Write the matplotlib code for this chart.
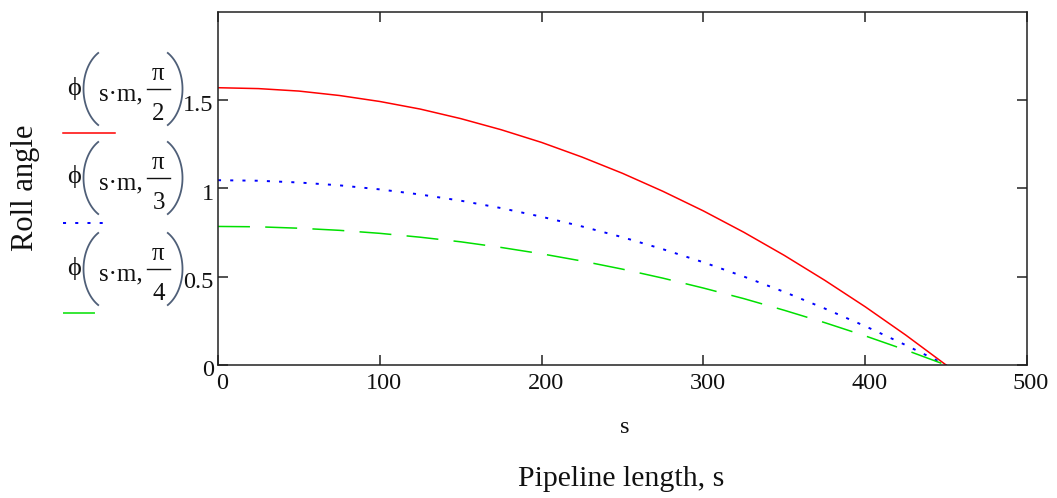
import matplotlib
matplotlib.use("Agg")
import numpy as np
import matplotlib.pyplot as plt
from matplotlib.lines import Line2D
import matplotlib.transforms as mtransforms

# Roll angle along the pipeline for three initial angles
s_values = [0, 25, 50, 75, 100, 125, 150, 175, 200, 225, 250, 275, 300,
            325, 350, 375, 400, 425, 450]
phi_pi_2 = [1.571, 1.566, 1.552, 1.527, 1.493, 1.450, 1.396, 1.333, 1.261,
            1.178, 1.086, 0.984, 0.873, 0.752, 0.621, 0.480, 0.330, 0.170, 0.0]
phi_pi_3 = [1.047, 1.044, 1.034, 1.018, 0.995, 0.966, 0.931, 0.889, 0.840,
            0.785, 0.724, 0.656, 0.582, 0.501, 0.414, 0.320, 0.220, 0.113, 0.0]
phi_pi_4 = [0.785, 0.783, 0.775, 0.763, 0.746, 0.724, 0.698, 0.666, 0.630,
            0.589, 0.543, 0.492, 0.436, 0.376, 0.310, 0.240, 0.165, 0.085, 0.0]

x_ticks = [0, 100, 200, 300, 400, 500]
y_ticks = [0, 0.5, 1, 1.5]
y_tick_labels = ["0", "0.5", "1", "1.5"]
trace_denominators = ["2", "3", "4"]

plt.rcParams["font.family"] = ["Liberation Serif", "DejaVu Serif"]
plt.rcParams["lines.scale_dashes"] = False

W, H = 1057, 498
fig = plt.figure(figsize=(W / 100, H / 100), dpi=100)


def fx(px):
    return px / W


def fy(py):
    return 1 - py / H


ax = fig.add_axes([fx(218), fy(365), fx(1027) - fx(218), fy(12) - fy(365)])

red_style = dict(color="#ff0000", lw=1.1, linestyle="-")
blue_style = dict(color="#0000ff", lw=1.4, linestyle=(0, (2.2, 6.6)))
green_style = dict(color="#00e000", lw=1.1, linestyle=(0, (23, 11)))

ax.plot(s_values, phi_pi_2, **red_style)
ax.plot(s_values, phi_pi_3, **blue_style)
ax.plot(s_values, phi_pi_4, **green_style)

ax.set_xlim(0, 500)
ax.set_ylim(0, 2)
ax.set_xticks(x_ticks)
ax.set_yticks(y_ticks)
ax.set_yticklabels(y_tick_labels)

edge = "#222222"
text_color = "#111111"
for sp in ax.spines.values():
    sp.set_linewidth(1.1)
    sp.set_color(edge)
ax.tick_params(direction="in", length=7.2, width=1.1, color=edge,
               top=True, right=True, labelsize=17.5, labelcolor=text_color)
ax.tick_params(axis="x", pad=6)
ax.tick_params(axis="y", pad=3)

# Mathcad-style label placement: slightly right of / below the tick
shift = mtransforms.ScaledTranslation(4 / 100, 0, fig.dpi_scale_trans)
for lbl in ax.get_xticklabels():
    lbl.set_transform(lbl.get_transform() + shift)
yshift = mtransforms.ScaledTranslation(0, -3 / 100, fig.dpi_scale_trans)
for lbl in ax.get_yticklabels():
    lbl.set_transform(lbl.get_transform() + yshift)

# Axis titles
fig.text(fx(25), fy(188), "Roll angle", rotation=90, ha="center", va="center",
         fontsize=22, color=text_color)
fig.text(fx(625), fy(427), "s", ha="center", va="center", fontsize=17.5,
         color=text_color)
fig.text(fx(621), fy(479), "Pipeline length, s", ha="center", va="center",
         fontsize=21.5, color=text_color)

# parameter for the bracket outline (half-opening angle of the bow)
_t = np.linspace(-np.pi / 3, np.pi / 3, 40)


def bracket(x_apex, cy, a, b, side):
    """Thin bow-shaped bracket; side=-1 opens right '(' , +1 opens left ')'."""
    xs = x_apex - side * a * (1 - np.cos(_t))
    ys = cy + b * np.sin(_t)
    fig.add_artist(Line2D(fx(xs), fy(ys), transform=fig.transFigure,
                          color="#4f5f78", lw=1.3))


def trace_label(cy, denom):
    """Draw  ϕ(s·m, π/denom)  centred vertically on pixel row cy."""
    fs = 18
    fig.text(fx(67), fy(cy - 1), "\u03d5", ha="left", va="center",
             fontsize=fs + 1, color=text_color)
    fig.text(fx(99), fy(cy + 11), "s\u00b7m,", ha="left", va="baseline",
             fontsize=fs, color=text_color)
    fig.text(fx(158.5), fy(cy - 9), "\u03c0", ha="center", va="baseline",
             fontsize=fs, color=text_color)
    fig.text(fx(158.5), fy(cy + 31), denom, ha="center", va="baseline",
             fontsize=fs, color=text_color)
    fig.add_artist(Line2D([fx(147), fx(170)], [fy(cy), fy(cy)],
                          transform=fig.transFigure, color=text_color, lw=1.0))
    bracket(83.5, cy, 29.4, 41.6, -1)
    bracket(182.5, cy, 29.4, 41.6, +1)


# Trace labels with line samples
expr_y = [89, 178, 269]
sample_y = [133, 223, 313]
sample_x1 = [115, 105, 98]
styles = [red_style, blue_style, green_style]
for denom, ey, sy, x1, st in zip(trace_denominators, expr_y, sample_y,
                                 sample_x1, styles):
    trace_label(ey, denom)
    fig.add_artist(Line2D([fx(63), fx(x1)], [fy(sy), fy(sy)],
                          transform=fig.transFigure, **st))

fig.savefig("out.png", dpi=100)
